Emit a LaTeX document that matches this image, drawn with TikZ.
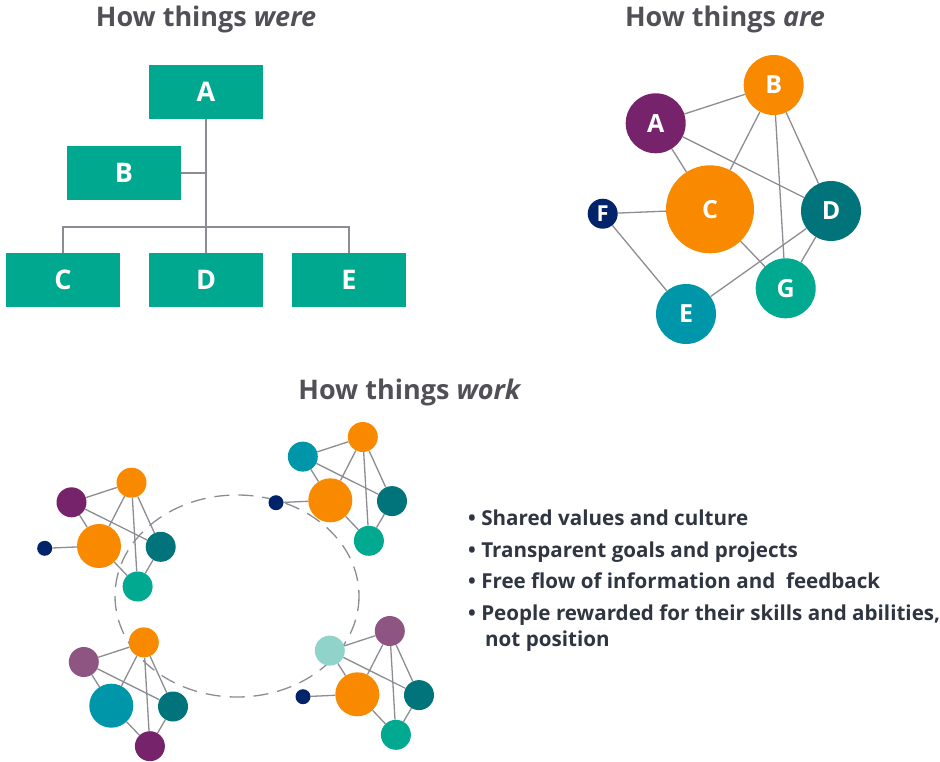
\documentclass[tikz,border=0pt]{standalone}
\usepackage{fontspec}
\setmainfont{Open Sans}
\usepackage{tikz}
\usetikzlibrary{positioning}
\usetikzlibrary{backgrounds}
\usetikzlibrary{calc}

\definecolor{boxgreen}{HTML}{00A88F}
\definecolor{netorange}{HTML}{F98A00}
\definecolor{netpurple}{HTML}{76236C}
\definecolor{netmauve}{HTML}{8E5583}
\definecolor{netteal}{HTML}{00747A}
\definecolor{netgreen}{HTML}{00A990}
\definecolor{netblue}{HTML}{0096AA}
\definecolor{netlight}{HTML}{8FD3CB}
\definecolor{netnavy}{HTML}{00236A}
\definecolor{linegray}{HTML}{8C8C92}
\definecolor{titlegray}{HTML}{505056}
\definecolor{listgray}{HTML}{2F3541}

\tikzset{
    orgbox/.style={fill=boxgreen, minimum width=114pt, minimum height=54pt, inner sep=0pt,
        text=white, font=\fontsize{27}{27}\selectfont\bfseries},
    netdot/.style={circle, fill=#1, inner sep=0pt, text=white,
        font=\fontsize{25}{25}\selectfont\bfseries},
    link/.style={draw=linegray, line width=1.3pt},
    headline/.style={text=titlegray, font=\fontsize{27}{27}\selectfont\bfseries, anchor=base},
    listline/.style={text=listgray, font=\fontsize{20.6}{20.6}\selectfont\bfseries, anchor=base west, inner sep=0pt}
}

% kleines Netz: #1 Name, #2 Mitte, #3..#7 Farben A B C D G
\newcommand{\smallnet}[7]{
    \begin{scope}[shift={(#2)}]
        \node[netdot=#3, minimum size=30pt] (#1a) at (-27.5,-43.7) {};
        \node[netdot=#4, minimum size=30pt] (#1b) at (32.5,-63.3) {};
        \node[netdot=#5, minimum size=44pt] (#1c) at (0,0) {};
        \node[netdot=#6, minimum size=30pt] (#1d) at (61.7,0.8) {};
        \node[netdot=#7, minimum size=30pt] (#1g) at (38.6,40.5) {};
    \end{scope}
    \begin{scope}[on background layer]
        \draw[link] (#1a) -- (#1b);
        \draw[link] (#1a) -- (#1c);
        \draw[link] (#1a) -- (#1d);
        \draw[link] (#1b) -- (#1c);
        \draw[link] (#1b) -- (#1d);
        \draw[link] (#1b) -- (#1g);
        \draw[link] (#1c) -- (#1g);
        \draw[link] (#1d) -- (#1g);
    \end{scope}
}

\begin{document}
\begin{tikzpicture}[x=1pt, y=-1pt]
    \useasboundingbox (0,0) rectangle (940,761);

    % Ueberschriften
    \node[headline] (hwere) at (206,26) {How things \textit{were}};
    \node[headline] (hare) at (725,26) {How things \textit{are}};
    \node[headline] (hwork) at (410,399) {How things \textit{work}};

    % Organigramm
    \node[orgbox] (tA) at (206,92) {A};
    \node[orgbox] (tB) at (124,173) {B};
    \node[orgbox] (tC) at (63,280) {C};
    \node[orgbox] (tD) at (206,280) {D};
    \node[orgbox] (tE) at (349,280) {E};
    \coordinate (bar) at (206,227);

    \draw[link, line width=1.5pt] (tA.south) -- (tD.north);
    \draw[link, line width=1.5pt] (tB.east) -- (tB.east -| tA.south);
    \draw[link, line width=1.5pt] (tC.north) |- (bar) -| (tE.north);

    % Netz oben rechts
    \node[netdot=netpurple, minimum size=60pt] (nA) at (655.7,123.3) {A};
    \node[netdot=netorange, minimum size=60pt] (nB) at (773.7,85) {B};
    \node[netdot=netorange, minimum size=88pt] (nC) at (710,209.3) {C};
    \node[netdot=netteal, minimum size=60pt] (nD) at (831,211) {D};
    \node[netdot=netblue, minimum size=60pt] (nE) at (686,314) {E};
    \node[netdot=netnavy, minimum size=30pt, font=\fontsize{22}{22}\selectfont\bfseries] (nF) at (602.7,213.7) {F};
    \node[netdot=netgreen, minimum size=60pt] (nG) at (785.7,288.3) {G};

    \begin{scope}[on background layer]
        \draw[link] (nA) -- (nB);
        \draw[link] (nA) -- (nC);
        \draw[link] (nA) -- (nD);
        \draw[link] (nB) -- (nC);
        \draw[link] (nB) -- (nD);
        \draw[link] (nB) -- (nG);
        \draw[link] (nF) -- (nC);
        \draw[link] (nF) -- (nE);
        \draw[link] (nC) -- (nG);
        \draw[link] (nD) -- (nE);
        \draw[link] (nD) -- (nG);
    \end{scope}

    % Ring
    \begin{scope}[on background layer]
        \draw[linegray, line width=1.3pt, dash pattern=on 15pt off 9pt] (237,596) ellipse (122 and 101);
    \end{scope}

    % vier kleine Netze
    \smallnet{p}{99,546}{netpurple}{netorange}{netorange}{netteal}{netgreen}
    \smallnet{q}{330.3,500.3}{netblue}{netorange}{netorange}{netteal}{netgreen}
    \smallnet{r}{111.3,705.7}{netmauve}{netorange}{netblue}{netteal}{netpurple}
    \smallnet{s}{357.3,694.3}{netlight}{netmauve}{netorange}{netteal}{netgreen}

    \node[netdot=netnavy, minimum size=15pt] (pf) at (44.7,548.3) {};
    \node[netdot=netnavy, minimum size=15pt] (qf) at (276,502.7) {};
    \node[netdot=netnavy, minimum size=15pt] (sf) at (303,696.7) {};
    \begin{scope}[on background layer]
        \draw[link] (pf) -- (pc);
        \draw[link] (qf) -- (qc);
        \draw[link] (sf) -- (sc);
    \end{scope}

    % Liste
    \node[listline] (l1) at (468,525) {• Shared values and culture};
    \node[listline] (l2) at (468,557) {• Transparent goals and projects};
    \node[listline] (l3) at (468,588.5) {• Free flow of information and\ \ feedback};
    \node[listline] (l4) at (468,620) {• People rewarded for their skills and abilities,};
    \node[listline] (l5) at (485,646.5) {not position};
\end{tikzpicture}
\end{document}
